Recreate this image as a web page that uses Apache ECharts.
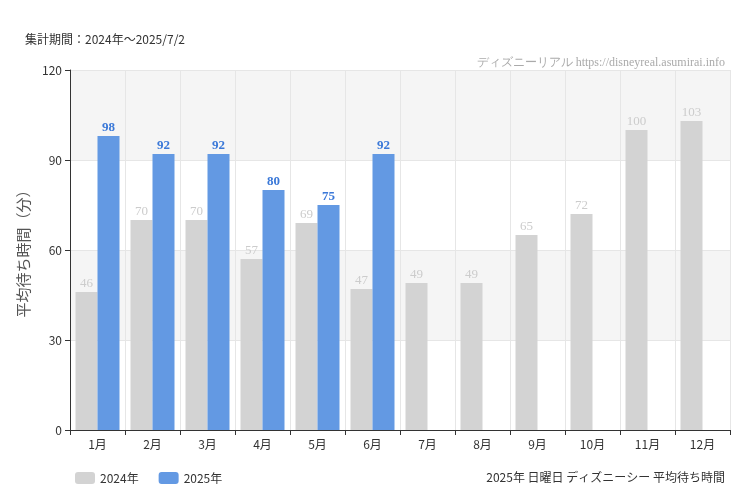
<html>
<head>
<meta charset="UTF-8" />
<script src="https://cdn.jsdelivr.net/npm/echarts@6/dist/echarts.min.js"></script>
</head>
<body style="margin:0">
<div id="main" style="width:750px;height:500px;"></div>
<script type="text/javascript">
var months = ['1月','2月','3月','4月','5月','6月','7月','8月','9月','10月','11月','12月'];
var wait2024 = [46, 70, 70, 57, 69, 47, 49, 49, 65, 72, 100, 103];
var wait2025 = [98, 92, 92, 80, 75, 92, null, null, null, null, null, null];
var yTicks = { min: 0, max: 120, interval: 30 };

var myChart = echarts.init(document.getElementById('main'));
myChart.setOption({
   textStyle: { fontFamily: 'Noto Sans CJK JP' },
   title: [
      { text: '集計期間：2024年～2025/7/2', left: 20, top: 28,
        textStyle: { fontSize: 12, fontWeight: 'normal', color: '#333' } },
      { text: 'ディズニーリアル https://disneyreal.asumirai.info', right: 20, top: 52,
        textStyle: { fontSize: 12, fontWeight: 'normal', color: '#aaa', fontFamily: 'Liberation Sans Narrow' } },
      { text: '2025年 日曜日 ディズニーシー 平均待ち時間', right: 20, top: 466,
        textStyle: { fontSize: 12, fontWeight: 'normal', color: '#333' } }
   ],
   legend: {
      left: 70, top: 467, itemWidth: 20, itemHeight: 12, itemGap: 20,
      textStyle: { fontSize: 12, color: '#333' },
      data: ['2024年', '2025年']
   },
   grid: { left: 70, right: 20, top: 70, bottom: 70 },
   xAxis: {
      type: 'category', data: months,
      axisLine: { lineStyle: { color: '#333' } },
      axisTick: { show: true, alignWithLabel: false },
      axisLabel: { color: '#333', fontSize: 12 },
      splitLine: { show: true, lineStyle: { color: '#e6e6e6' } }
   },
   yAxis: {
      type: 'value', min: yTicks.min, max: yTicks.max, interval: yTicks.interval,
      name: '平均待ち時間（分）', nameLocation: 'middle', nameGap: 38,
      nameTextStyle: { fontSize: 15, color: '#555' },
      axisLine: { show: true, lineStyle: { color: '#333' } },
      axisTick: { show: true },
      axisLabel: { color: '#333', fontSize: 12 },
      splitLine: { lineStyle: { color: '#e6e6e6' } },
      splitArea: { show: true, areaStyle: { color: ['#ffffff', '#f5f5f5'] } }
   },
   series: [{
      name: '2024年', type: 'bar', data: wait2024,
      barWidth: 22, barGap: '0%',
      itemStyle: { color: '#d3d3d3' },
      label: { show: true, position: 'top', distance: 2, color: '#ccc', fontSize: 13,
               fontFamily: 'Liberation Sans Narrow' }
   }, {
      name: '2025年', type: 'bar', data: wait2025,
      barWidth: 22,
      itemStyle: { color: '#6399e3' },
      label: { show: true, position: 'top', distance: 2, color: '#3a78d8', fontSize: 13,
               fontWeight: 'bold', fontFamily: 'Liberation Sans Narrow' }
   }]
});
</script>
</body>
</html>
